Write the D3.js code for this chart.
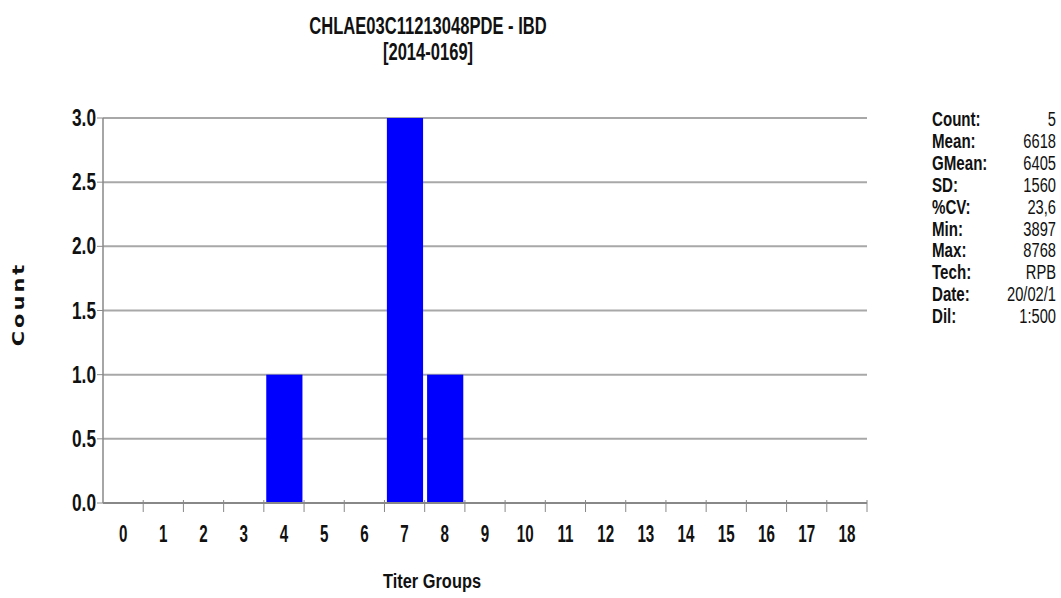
<!DOCTYPE html>
<html>
<head>
<meta charset="utf-8">
<script src="https://cdn.jsdelivr.net/npm/d3@7"></script>
<style>
  body { margin: 0; background: #fff; }
  svg text { font-family: "Liberation Sans", Arial, sans-serif; font-weight: bold; fill: #111; }
</style>
</head>
<body>
<svg id="chart" width="1061" height="598"></svg>
<script>
// --- data ---
const titerGroups = d3.range(0, 19).map(String);
const counts = [0, 0, 0, 0, 1, 0, 0, 3, 1, 0, 0, 0, 0, 0, 0, 0, 0, 0, 0];
const yTicks = [0, 0.5, 1.0, 1.5, 2.0, 2.5, 3.0];
const statLabels = ["Count:", "Mean:", "GMean:", "SD:", "%CV:", "Min:", "Max:", "Tech:", "Date:", "Dil:"];
const statValues = ["5", "6618", "6405", "1560", "23,6", "3897", "8768", "RPB", "20/02/1", "1:500"];
const titleLines = ["CHLAE03C11213048PDE - IBD", "[2014-0169]"];

const svg = d3.select("#chart");
const margin = { top: 118, left: 103, right: 194, bottom: 95 };
const width = 1061 - margin.left - margin.right;
const height = 598 - margin.top - margin.bottom;

const x = d3.scaleBand().domain(titerGroups).range([0, width]);
const y = d3.scaleLinear().domain([0, 3]).range([height, 0]);

// the original picture is squeezed horizontally, so text is narrowed
const squeeze = (px, py, sx) => `translate(${px},${py}) scale(${sx},1)`;

const g = svg.append("g").attr("transform", `translate(${margin.left},${margin.top})`);

// --- gridlines ---
g.selectAll("line.grid").data(yTicks.filter(d => d > 0))
  .join("line")
  .attr("class", "grid")
  .attr("x1", 0).attr("x2", width)
  .attr("y1", d => y(d)).attr("y2", d => y(d))
  .attr("stroke", "#a8a8a8").attr("stroke-width", 2);

// --- bars ---
g.selectAll("rect.bar").data(counts.map((c, i) => ({ k: titerGroups[i], v: c })).filter(d => d.v > 0))
  .join("rect")
  .attr("class", "bar")
  .attr("x", d => x(d.k) + x.bandwidth() * 0.06)
  .attr("width", x.bandwidth() * 0.9)
  .attr("y", d => y(d.v))
  .attr("height", d => y(0) - y(d.v))
  .attr("fill", "#0000ff");

// --- y axis ---
g.append("line").attr("x1", 0).attr("x2", 0).attr("y1", 0).attr("y2", height)
  .attr("stroke", "#888").attr("stroke-width", 1.5);
g.selectAll("line.ytick").data(yTicks).join("line")
  .attr("x1", -6).attr("x2", 0)
  .attr("y1", d => y(d)).attr("y2", d => y(d))
  .attr("stroke", "#888");
g.selectAll("text.ylab").data(yTicks).join("text")
  .attr("class", "ylab")
  .attr("transform", d => squeeze(-7, y(d) + 8, 0.72))
  .attr("text-anchor", "end")
  .style("font-size", "24px")
  .text(d => d.toFixed(1));

// --- x axis ---
g.append("line").attr("x1", 0).attr("x2", width).attr("y1", height).attr("y2", height)
  .attr("stroke", "#888").attr("stroke-width", 2);
g.selectAll("line.xtick").data(titerGroups).join("line")
  .attr("x1", d => x(d) + x.bandwidth()).attr("x2", d => x(d) + x.bandwidth())
  .attr("y1", height - 3).attr("y2", height + 9)
  .attr("stroke", "#888");
g.selectAll("text.xlab").data(titerGroups).join("text")
  .attr("class", "xlab")
  .attr("transform", d => squeeze(x(d) + x.bandwidth() / 2, height + 39, 0.66))
  .attr("text-anchor", "middle")
  .style("font-size", "23px")
  .text(d => d);

// --- titles ---
svg.selectAll("text.title").data(titleLines).join("text")
  .attr("class", "title")
  .attr("transform", (d, i) => squeeze(428, 34 + i * 26, 0.72))
  .attr("text-anchor", "middle")
  .style("font-size", "23px")
  .text(d => d);

svg.append("text")
  .attr("transform", squeeze(432, 588, 0.78))
  .attr("text-anchor", "middle")
  .style("font-size", "21px")
  .text("Titer Groups");

svg.append("text")
  .attr("transform", "translate(24,304) scale(0.75,1) rotate(-90)")
  .attr("text-anchor", "middle")
  .style("font-family", "'DejaVu Sans', Verdana, sans-serif")
  .style("font-size", "21px")
  .style("letter-spacing", "3px")
  .text("Count");

// --- stats panel ---
const stats = svg.append("g").attr("transform", "translate(932,126)");
stats.selectAll("text.sl").data(statLabels).join("text")
  .attr("class", "sl")
  .attr("transform", (d, i) => squeeze(0, i * 21.9, 0.72))
  .style("font-size", "21px")
  .text(d => d);
stats.selectAll("text.sv").data(statValues).join("text")
  .attr("class", "sv")
  .attr("transform", (d, i) => squeeze(124, i * 21.9, 0.7))
  .attr("text-anchor", "end")
  .style("font-size", "21px")
  .style("font-weight", "normal")
  .text(d => d);
</script>
</body>
</html>
